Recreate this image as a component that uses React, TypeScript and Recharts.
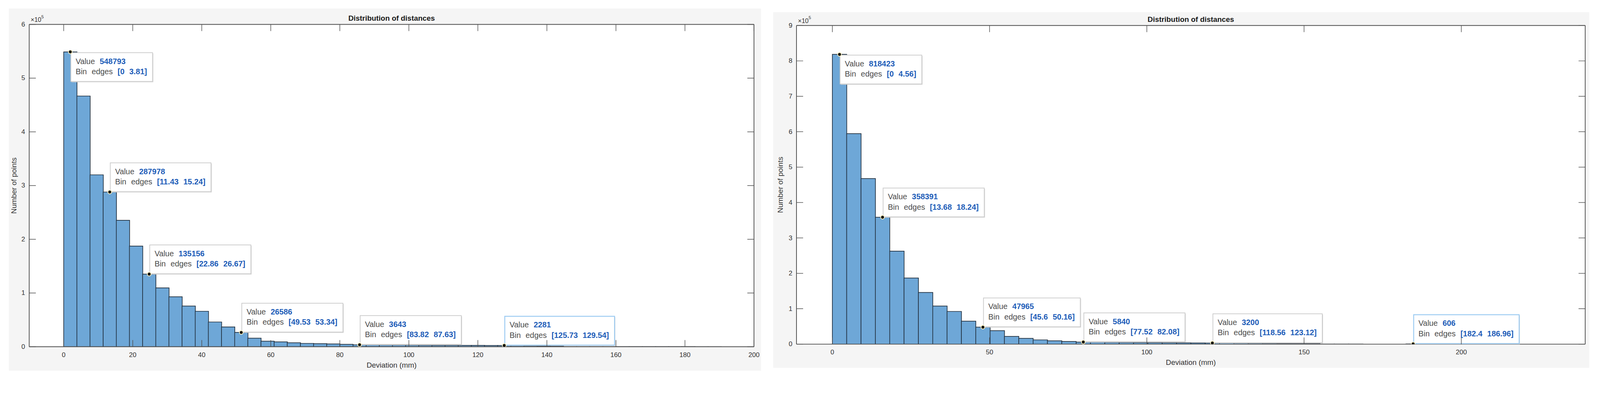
import React from "react";
import { ComposedChart, Bar, Scatter, XAxis, YAxis, CartesianGrid } from "recharts";

// left histogram (bin width 3.81 mm)
const leftBinWidth = 3.81;
const leftCounts = [
  548793, 466700, 320000, 287978, 235400, 187400, 135156, 109500, 93000, 75800,
  66000, 46000, 36800, 26586, 15900, 10300, 9000, 7400, 6200, 5700,
  5200, 4400, 3643, 3450, 3300, 3150, 3000, 2850, 2700, 2600,
  2500, 2420, 2350, 2281, 2000, 1700, 1400, 1100, 200, 150,
  120, 100, 80, 70, 60, 50, 40, 30, 20, 10,
];
const leftTipBins = [0, 3, 6, 13, 22, 33];
const leftXTicks = [0, 20, 40, 60, 80, 100, 120, 140, 160, 180, 200];
const leftYTicks = [0, 100000, 200000, 300000, 400000, 500000, 600000];

// right histogram (bin width 4.56 mm)
const rightBinWidth = 4.56;
const rightCounts = [
  818423, 594600, 467700, 358391, 262600, 186800, 145900, 107500, 92300, 64900,
  47965, 38100, 21900, 16200, 12000, 9500, 7500, 5840, 5400, 5000,
  4700, 4400, 4100, 3900, 3600, 3400, 3200, 3000, 2700, 2400,
  2100, 1800, 1500, 1200, 300, 250, 200, 150, 120, 100,
  606,
];
const rightTipBins = [0, 3, 10, 17, 26, 40];
const rightXTicks = [0, 50, 100, 150, 200];
const rightYTicks = [0, 100000, 200000, 300000, 400000, 500000, 600000, 700000, 800000, 900000];

const PAGE_W = 4329;
const PAGE_H = 1029;
const FONT = '"Liberation Sans", Arial, Helvetica, sans-serif';
const AXIS_COLOR = "#4d4d4d";
const TEXT_COLOR = "#333333";
const BAR_FILL = "#6ea7d7";
const BAR_EDGE = "#22303f";
const TIP_BLUE = "#1d5cb8";
const TIP_GRAY = "#4a4a4a";
const TICK_LEN = 18;
const X_LABEL_GAP = 22;
const Y_LABEL_GAP = 11;
const TIP_FONT = 21;
const TIP_H = 78;
const TIP_GAP = 13;
const AXIS_SIZE = 1; // axes need a non-zero box to be drawn

let ctx: CanvasRenderingContext2D | null = null;
const measure = (text: string, bold = false) => {
  if (!ctx) ctx = document.createElement("canvas").getContext("2d");
  if (!ctx) return text.length * TIP_FONT * 0.55;
  ctx.font = `${bold ? "bold " : ""}${TIP_FONT}px "Liberation Sans", Arial`;
  return ctx.measureText(text).width;
};

const fmtEdge = (v: number) => String(parseFloat(v.toFixed(2)));

const BottomTick = (props: any) => {
  const { x, y, payload } = props;
  const base = y - X_LABEL_GAP;
  return (
    <g>
      <line x1={x} x2={x} y1={base} y2={base - TICK_LEN} stroke={AXIS_COLOR} strokeWidth={1.5} />
      <text x={x} y={y} textAnchor="middle" dominantBaseline="central" fontFamily={FONT} fontSize={18} fill={TEXT_COLOR}>
        {payload.value}
      </text>
    </g>
  );
};

const TopTick = (props: any) => {
  const { x, y } = props;
  return <line x1={x} x2={x} y1={y} y2={y + TICK_LEN} stroke={AXIS_COLOR} strokeWidth={1.5} />;
};

const LeftTick = (props: any) => {
  const { x, y, payload } = props;
  const base = x + Y_LABEL_GAP;
  return (
    <g>
      <line x1={base} x2={base + TICK_LEN} y1={y} y2={y} stroke={AXIS_COLOR} strokeWidth={1.5} />
      <text x={x} y={y} textAnchor="end" dominantBaseline="central" fontFamily={FONT} fontSize={18} fill={TEXT_COLOR}>
        {payload.value / 100000}
      </text>
    </g>
  );
};

const RightTick = (props: any) => {
  const { x, y } = props;
  return <line x1={x} x2={x - TICK_LEN} y1={y} y2={y} stroke={AXIS_COLOR} strokeWidth={1.5} />;
};

const makeTip = (plotTop: number, lastBin: number) => (props: any) => {
  const { cx, cy, payload } = props;
  if (cx == null || cy == null) return <g />;
  const valueText = String(payload.count);
  const lo = `[${payload.lo}`;
  const hi = `${payload.hi}]`;
  const line1 = measure("Value") + TIP_GAP + measure(valueText, true);
  const line2 =
    measure("Bin") + TIP_GAP + measure("edges") + TIP_GAP + measure(lo, true) + TIP_GAP + measure(hi, true);
  const w = 13 + Math.max(line1, line2) + 15;
  const below = cy - TIP_H - 4 < plotTop;
  const bx = cx + 1.5;
  const by = below ? cy + 2 : cy - 1 - TIP_H;
  const selected = payload.bin === lastBin;
  return (
    <g>
      <rect x={bx + 2} y={by + 2} width={w} height={TIP_H} fill="#d4d4d4" />
      <rect
        x={bx}
        y={by}
        width={w}
        height={TIP_H}
        fill="#ffffff"
        stroke={selected ? "#9ccbf2" : "#cccccc"}
        strokeWidth={selected ? 2.5 : 2}
      />
      <text x={bx + 13} y={by + 23} dominantBaseline="central" fontFamily={FONT} fontSize={TIP_FONT} fill={TIP_GRAY}>
        <tspan>Value</tspan>
        <tspan dx={TIP_GAP} fontWeight="bold" fill={TIP_BLUE}>
          {valueText}
        </tspan>
      </text>
      <text x={bx + 13} y={by + 51} dominantBaseline="central" fontFamily={FONT} fontSize={TIP_FONT} fill={TIP_GRAY}>
        <tspan>Bin</tspan>
        <tspan dx={TIP_GAP}>edges</tspan>
        <tspan dx={TIP_GAP} fontWeight="bold" fill={TIP_BLUE}>
          {lo}
        </tspan>
        <tspan dx={TIP_GAP} fontWeight="bold" fill={TIP_BLUE}>
          {hi}
        </tspan>
      </text>
      <circle cx={cx} cy={cy} r={5} fill="#111111" stroke="#fff6c4" strokeWidth={2} />
    </g>
  );
};

type Layout = {
  left: number;
  top: number;
  width: number;
  height: number;
  plot: { top: number; right: number; bottom: number; left: number };
  titleY: number;
  xLabelY: number;
  yLabelX: number;
  expX: number;
  expY: number;
};

const HistPanel = ({
  counts,
  binWidth,
  tipBins,
  xTicks,
  yTicks,
  xDomain,
  layout,
}: {
  counts: number[];
  binWidth: number;
  tipBins: number[];
  xTicks: number[];
  yTicks: number[];
  xDomain: [number, number];
  layout: Layout;
}) => {
  const bins = counts.map((count, i) => ({ center: (i + 0.5) * binWidth, count }));
  const tips = tipBins.map((b) => ({
    bin: b,
    center: (b + 0.5) * binWidth,
    count: counts[b],
    lo: fmtEdge(b * binWidth),
    hi: fmtEdge((b + 1) * binWidth),
  }));
  const yDomain: [number, number] = [0, yTicks[yTicks.length - 1]];
  const p = layout.plot;
  // chart margins are the plot insets minus the 1px axis boxes
  const margin = {
    top: p.top - AXIS_SIZE,
    right: p.right - AXIS_SIZE,
    bottom: p.bottom - AXIS_SIZE,
    left: p.left - AXIS_SIZE,
  };
  const plotW = layout.width - p.left - p.right;
  const plotH = layout.height - p.top - p.bottom;
  const midX = p.left + plotW / 2;
  const midY = p.top + plotH / 2;
  const axisLine = { stroke: AXIS_COLOR, strokeWidth: 2 };

  return (
    <div
      style={{
        position: "absolute",
        left: layout.left,
        top: layout.top,
        width: layout.width,
        height: layout.height,
        background: "#f5f5f5",
      }}
    >
      <ComposedChart width={layout.width} height={layout.height} data={bins} margin={margin} barCategoryGap={0} barGap={0}>
        <CartesianGrid horizontal={false} vertical={false} fill="#ffffff" stroke="none" />
        <Bar dataKey="count" fill={BAR_FILL} stroke={BAR_EDGE} strokeWidth={1.8} isAnimationActive={false} />
        <XAxis
          dataKey="center"
          type="number"
          domain={xDomain}
          allowDataOverflow
          ticks={xTicks}
          interval={0}
          height={AXIS_SIZE}
          tickSize={0}
          tickMargin={X_LABEL_GAP}
          tickLine={false}
          axisLine={axisLine}
          tick={<BottomTick />}
        />
        <XAxis
          xAxisId="top"
          orientation="top"
          dataKey="center"
          type="number"
          domain={xDomain}
          allowDataOverflow
          ticks={xTicks}
          interval={0}
          height={AXIS_SIZE}
          tickSize={0}
          tickMargin={0}
          tickLine={false}
          axisLine={axisLine}
          tick={<TopTick />}
        />
        <YAxis
          type="number"
          domain={yDomain}
          allowDataOverflow
          ticks={yTicks}
          interval={0}
          width={AXIS_SIZE}
          tickSize={0}
          tickMargin={Y_LABEL_GAP}
          tickLine={false}
          axisLine={axisLine}
          tick={<LeftTick />}
        />
        <YAxis
          yAxisId="right"
          orientation="right"
          dataKey="count"
          type="number"
          domain={yDomain}
          allowDataOverflow
          ticks={yTicks}
          interval={0}
          width={AXIS_SIZE}
          tickSize={0}
          tickMargin={0}
          tickLine={false}
          axisLine={axisLine}
          tick={<RightTick />}
        />
        <Scatter
          xAxisId="top"
          yAxisId="right"
          data={tips}
          dataKey="count"
          shape={makeTip(p.top, tipBins[tipBins.length - 1])}
          isAnimationActive={false}
        />
      </ComposedChart>
      <svg
        width={layout.width}
        height={layout.height}
        style={{ position: "absolute", left: 0, top: 0, pointerEvents: "none" }}
      >
        <text x={midX} y={layout.titleY} textAnchor="middle" dominantBaseline="central" fontFamily={FONT} fontSize={20} fontWeight="bold" fill="#1a1a1a">
          Distribution of distances
        </text>
        <text x={midX} y={layout.xLabelY} textAnchor="middle" dominantBaseline="central" fontFamily={FONT} fontSize={20} fill={TEXT_COLOR}>
          Deviation (mm)
        </text>
        <text
          x={layout.yLabelX}
          y={midY}
          textAnchor="middle"
          dominantBaseline="central"
          fontFamily={FONT}
          fontSize={20}
          fill={TEXT_COLOR}
          transform={`rotate(-90 ${layout.yLabelX} ${midY})`}
        >
          Number of points
        </text>
        <text x={layout.expX} y={layout.expY} dominantBaseline="central" fontFamily={FONT} fontSize={17} fill={TEXT_COLOR}>
          ×10
          <tspan dy={-8} fontSize={12}>
            5
          </tspan>
        </text>
      </svg>
    </div>
  );
};

const leftLayout: Layout = {
  left: 24,
  top: 23,
  width: 2035,
  height: 980,
  plot: { top: 43, right: 19, bottom: 65, left: 55 },
  titleY: 26,
  xLabelY: 965,
  yLabelX: 13,
  expX: 59,
  expY: 30,
};

const rightLayout: Layout = {
  left: 2092,
  top: 33,
  width: 2208,
  height: 962,
  plot: { top: 36, right: 11, bottom: 64, left: 63 },
  titleY: 19,
  xLabelY: 947,
  yLabelX: 19,
  expX: 67,
  expY: 23,
};

export default function App() {
  // fit the fixed-size figure into whatever CSS viewport the page really has
  const fit =
    typeof window !== "undefined"
      ? Math.min(window.innerWidth / PAGE_W, window.innerHeight / PAGE_H)
      : 1;
  return (
    <div
      style={{
        position: "fixed",
        left: 0,
        top: 0,
        width: "100vw",
        height: "100vh",
        overflow: "hidden",
        background: "#ffffff",
      }}
    >
      <div
        style={{
          position: "absolute",
          left: 0,
          top: 0,
          width: PAGE_W,
          height: PAGE_H,
          transform: `scale(${fit})`,
          transformOrigin: "0 0",
        }}
      >
        <HistPanel
          counts={leftCounts}
          binWidth={leftBinWidth}
          tipBins={leftTipBins}
          xTicks={leftXTicks}
          yTicks={leftYTicks}
          xDomain={[-10, 200]}
          layout={leftLayout}
        />
        <HistPanel
          counts={rightCounts}
          binWidth={rightBinWidth}
          tipBins={rightTipBins}
          xTicks={rightXTicks}
          yTicks={rightYTicks}
          xDomain={[-11.4, 239.4]}
          layout={rightLayout}
        />
      </div>
    </div>
  );
}
